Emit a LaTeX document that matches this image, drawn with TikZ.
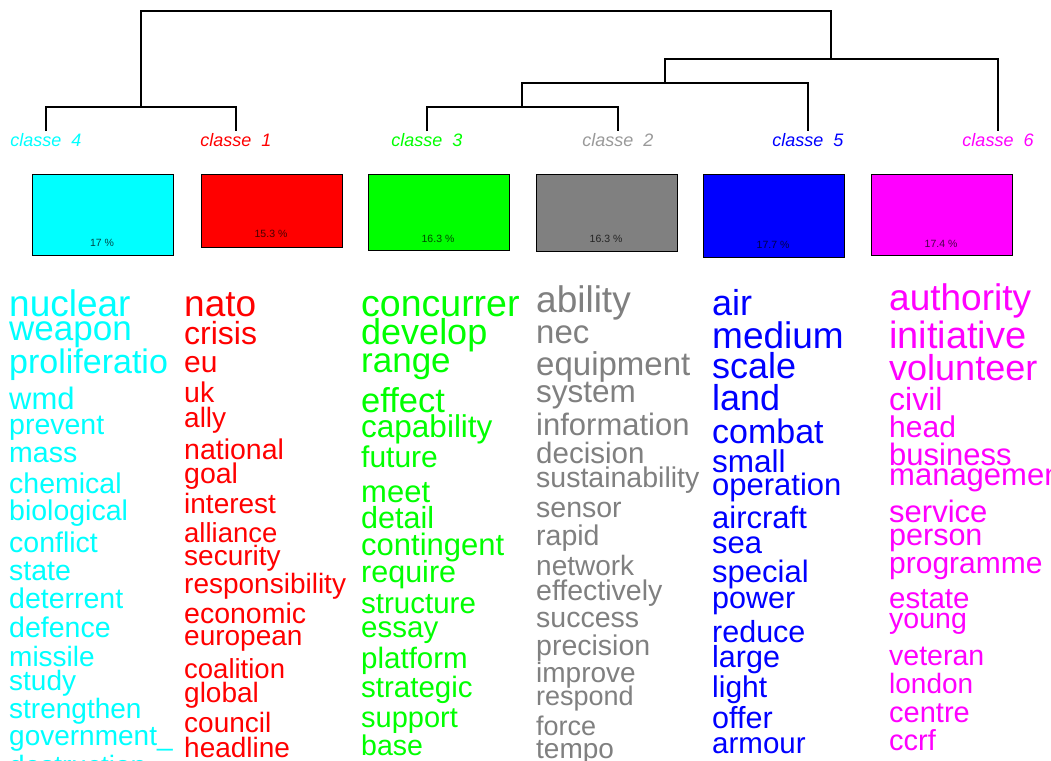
\documentclass[tikz,border=0pt]{standalone}
\usepackage{fontspec}
\setmainfont{Liberation Sans}
\definecolor{ccyan}{HTML}{00FFFF}
\definecolor{cred}{HTML}{FF0000}
\definecolor{cgreen}{HTML}{00FF00}
\definecolor{cgray}{HTML}{808080}
\definecolor{cgraylab}{HTML}{9A9A9A}
\definecolor{cblue}{HTML}{0000FF}
\definecolor{cmag}{HTML}{FF00FF}
\tikzset{
  tree/.style={draw=black, line width=1.2pt},
  classlab/.style={anchor=base, inner sep=0pt, font=\fontsize{18}{18}\selectfont\itshape},
  classbox/.style={draw=black, line width=1.3pt, anchor=north west, inner sep=0pt, minimum width=141pt},
  pct/.style={anchor=base, inner sep=0pt, text=black, text opacity=0.72, font=\fontsize{10.5}{10.5}\selectfont},
  word/.style={anchor=base west, inner sep=0pt}
}
\begin{document}
\begin{tikzpicture}[x=1pt,y=-1pt]
\useasboundingbox (0,0) rectangle (1051,760);
\clip (0,0) rectangle (1051,760);
\fill[white] (0,0) rectangle (1051,760);

% dendrogram
\coordinate (l4) at (46,131);
\coordinate (l1) at (236,131);
\coordinate (l3) at (427,131);
\coordinate (l2) at (618,131);
\coordinate (l5) at (808,131);
\coordinate (l6) at (998,131);
\coordinate (m41) at (141,107);
\coordinate (m32) at (522,107);
\coordinate (m325) at (665,83);
\coordinate (m3256) at (831,59);
\coordinate (root) at (486,11);
\draw[tree] (l4) |- (m41) -| (l1);
\draw[tree] (l3) |- (m32) -| (l2);
\draw[tree] (m32) |- (m325) -| (l5);
\draw[tree] (m325) |- (m3256) -| (l6);
\draw[tree] (m41) |- (root) -| (m3256);

% class labels
\node[classlab, text=ccyan] (lab4) at (46,146) {classe~~4};
\node[classlab, text=cred] (lab1) at (236,146) {classe~~1};
\node[classlab, text=cgreen] (lab3) at (427,146) {classe~~3};
\node[classlab, text=cgraylab] (lab2) at (618,146) {classe~~2};
\node[classlab, text=cblue] (lab5) at (808,146) {classe~~5};
\node[classlab, text=cmag] (lab6) at (998,146) {classe~~6};

% boxes
\node[classbox, fill=ccyan, minimum height=81pt] (b4) at (32,174) {};
\node[classbox, fill=cred, minimum height=73pt] (b1) at (201,174) {};
\node[classbox, fill=cgreen, minimum height=76pt] (b3) at (368,174) {};
\node[classbox, fill=cgray, minimum height=77pt] (b2) at (536,174) {};
\node[classbox, fill=cblue, minimum height=83pt] (b5) at (703,174) {};
\node[classbox, fill=cmag, minimum height=81pt] (b6) at (871,174) {};
\node[pct] (p4) at (102,246) {17 \%};
\node[pct] (p1) at (271,237) {15.3 \%};
\node[pct] (p3) at (438,242) {16.3 \%};
\node[pct] (p2) at (606,242) {16.3 \%};
\node[pct] (p5) at (773,248) {17.7 \%};
\node[pct] (p6) at (941,247) {17.4 \%};

% words class 4
\foreach \t/\y/\s [count=\i] in {nuclear/316/37, weapon/340/35, proliferatio/373/34, wmd/409/31,
  prevent/434/28.5, mass/462/28.5, chemical/493/28.5, biological/520/28.5, conflict/552/28.5,
  state/580/28.5, deterrent/608/28.5, defence/637/28.5, missile/666/28, study/690/28,
  strengthen/718/28, {government\_}/745/28, destruction/775/28}
  \node[word, text=ccyan, font=\fontsize{\s}{\s}\selectfont] (wa\i) at (9,\y) {\t};

% words class 1
\foreach \t/\y/\s [count=\i] in {nato/316/37, crisis/344/32, eu/372/30, uk/402/28.5, ally/427/28,
  national/459/28.5, goal/483/28.5, interest/513/28, alliance/542/27.5, security/565/28,
  responsibility/593/28, economic/623/28.5, european/645/28, coalition/678/27.5, global/702/28,
  council/732/28, headline/757/28}
  \node[word, text=cred, font=\fontsize{\s}{\s}\selectfont] (wb\i) at (184,\y) {\t};

% words class 3
\foreach \t/\y/\s [count=\i] in {concurrer/316/37.5, develop/344/36, range/372/35, effect/412/34.5,
  capability/437/31.5, future/467/30, meet/502/31, detail/528/30.5, contingent/555/31,
  require/582/30.5, structure/613/29.5, essay/637/29.5, platform/668/29.5, strategic/697/29.5,
  support/727/29, base/755/28.5}
  \node[word, text=cgreen, font=\fontsize{\s}{\s}\selectfont] (wc\i) at (361,\y) {\t};

% words class 2
\foreach \t/\y/\s [count=\i] in {ability/312/37, nec/343/33, equipment/375/33, system/402/31.5,
  information/435/31, decision/463/29.5, sustainability/487/28.5, sensor/517/28.5, rapid/545/28.5,
  network/575/28, effectively/600/28.5, success/627/28.5, precision/655/28.5, improve/682/28,
  respond/705/27, force/735/27, tempo/758/28}
  \node[word, text=cgray, font=\fontsize{\s}{\s}\selectfont] (wd\i) at (536,\y) {\t};

% words class 5
\foreach \t/\y/\s [count=\i] in {air/315/36, medium/348/37, scale/378/36, land/410/36, combat/443/34,
  small/472/31.5, operation/495/31, aircraft/528/31, sea/553/31, special/582/31, power/608/30.5,
  reduce/642/30.5, large/667/30.5, light/697/30, offer/728/30.5, armour/753/29.5}
  \node[word, text=cblue, font=\fontsize{\s}{\s}\selectfont] (we\i) at (712,\y) {\t};

% words class 6
\foreach \t/\y/\s [count=\i] in {authority/310/37, initiative/348/38, volunteer/380/36, civil/410/32,
  head/437/30, business/465/31, management/485/31, service/522/31, person/545/30.5,
  programme/573/30, estate/608/29.5, young/628/28.5, veteran/665/28.5, london/693/28,
  centre/722/29, ccrf/750/29}
  \node[word, text=cmag, font=\fontsize{\s}{\s}\selectfont] (wf\i) at (889,\y) {\t};
\end{tikzpicture}
\end{document}
